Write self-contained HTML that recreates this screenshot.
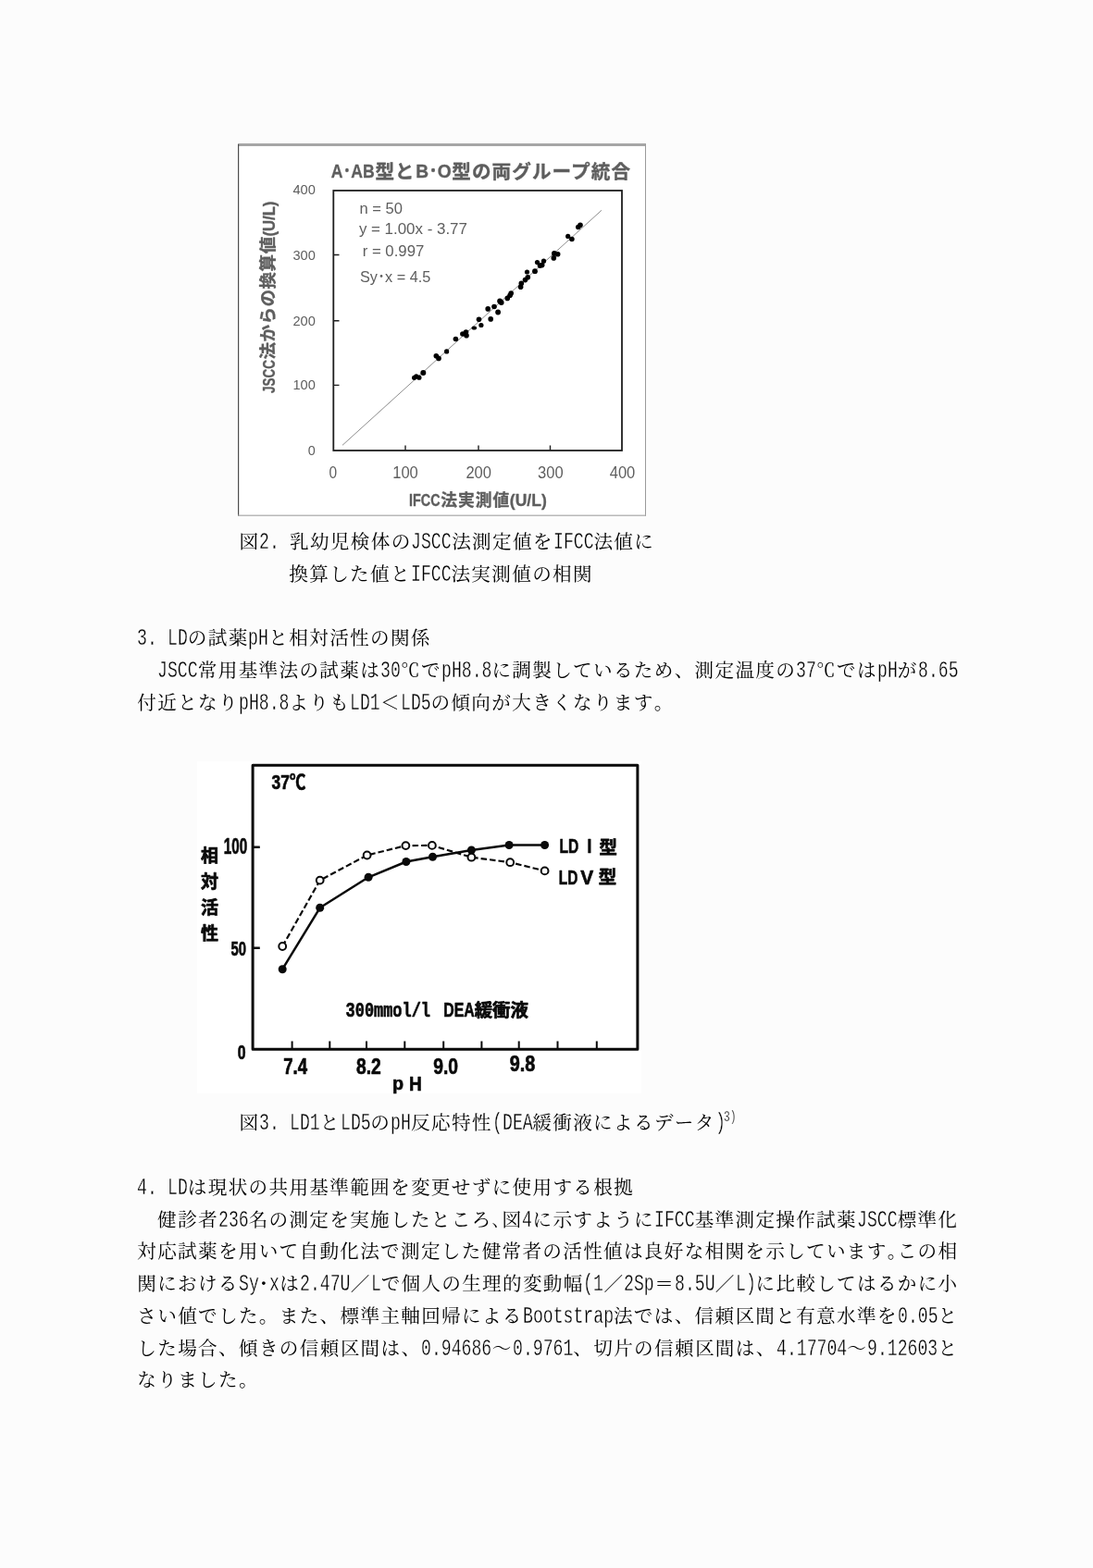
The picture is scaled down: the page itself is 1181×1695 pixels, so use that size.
<!DOCTYPE html>
<html lang="ja">
<head>
<meta charset="utf-8">
<title>LDの試薬pHと相対活性の関係</title>
<style>
html,body{margin:0;padding:0}
body{width:1181px;height:1695px;position:relative;overflow:hidden;background:#fcfcfc;color:#000;
 font-family:"Liberation Serif","Noto Serif CJK JP","Noto Serif CJK SC",serif;}
.l{position:absolute;margin:0;white-space:nowrap;font-size:20.6px;line-height:36px;height:36px;
 font-weight:400;letter-spacing:1.33px;font-kerning:none;font-variant-ligatures:none;font-feature-settings:"palt" 0,"kern" 0;}
.j{width:887px;letter-spacing:1.2px;text-align:justify;text-align-last:justify;text-justify:inter-character;}
.l .h{font-weight:400;display:inline-block;font-family:"Liberation Mono",monospace;font-size:25.5px;line-height:1;
 letter-spacing:0;transform:scaleX(.712);transform-origin:0 50%;white-space:nowrap;text-align:left;text-align-last:left;
 vertical-align:baseline;margin:0 .1px 0 -.1px;-webkit-text-stroke:.35px #fcfcfc}
.l sup{display:inline-block;font-family:"Liberation Mono",monospace;font-size:15.8px;line-height:0;letter-spacing:0;
 vertical-align:baseline;position:relative;top:-8.8px;transform:scaleX(.717);transform-origin:0 50%;width:13.6px;margin:0 1px 0 -1.3px;
 white-space:nowrap;-webkit-text-stroke:.3px #fcfcfc}
.l .k{letter-spacing:.6px}
.n1{width:10.9px}.n2{width:21.8px}.n3{width:32.7px}.n4{width:43.6px}.n5{width:54.5px}.n6{width:65.4px}
.n7{width:76.3px}.n8{width:87.2px}.n9{width:98.1px}
svg{position:absolute;display:block;overflow:visible}
</style>
</head>
<body>

<!-- 図2 -->
<svg id="c1" font-kerning="none" width="1181" height="440" viewBox="0 140 1181 440" style="left:0;top:140px" font-family='"Liberation Sans","Noto Sans CJK JP",sans-serif' fill="#5e5e5e">
<rect x="255.7" y="153.7" width="442.3" height="404.1" fill="#fff" stroke="none"/>
<rect x="257" y="155" width="441" height="3" fill="#a6a6a6" stroke="none"/>
<rect x="257" y="156" width="1.2" height="402" fill="#4d4d4d" stroke="none"/>
<rect x="697" y="156" width="1" height="402" fill="#9a9a9a" stroke="none"/>
<rect x="257" y="556.6" width="441" height="1.2" fill="#a8a8a8" stroke="none"/>
<g font-weight="700" stroke="#5e5e5e" stroke-width=".35" stroke-linejoin="round"><text x="357.8" font-size="21" textLength="46.9" lengthAdjust="spacingAndGlyphs" y="192.4">A･AB</text><text x="405.4" font-size="20.6" y="192.6" textLength="42" lengthAdjust="spacing">型と</text><text x="449.3" font-size="21" textLength="38.3" lengthAdjust="spacingAndGlyphs" y="192.4">B･O</text><text x="488.2" font-size="20.6" y="192.6" textLength="192.8" lengthAdjust="spacing">型の両グループ統合</text></g>
<g font-size="15" text-anchor="end">
<text x="340.8" y="210.3" textLength="24.4" lengthAdjust="spacingAndGlyphs">400</text>
<text x="340.8" y="280.6" textLength="24.4" lengthAdjust="spacingAndGlyphs">300</text>
<text x="340.8" y="352" textLength="24.4" lengthAdjust="spacingAndGlyphs">200</text>
<text x="340.8" y="421" textLength="24.4" lengthAdjust="spacingAndGlyphs">100</text>
<text x="340.8" y="492" textLength="8" lengthAdjust="spacingAndGlyphs">0</text>
</g>
<g font-size="17.5" text-anchor="middle">
<text x="359.9" y="517.4" textLength="8.6" lengthAdjust="spacingAndGlyphs">0</text>
<text x="438" y="517.4" textLength="27.6" lengthAdjust="spacingAndGlyphs">100</text>
<text x="517.2" y="517.4" textLength="27.6" lengthAdjust="spacingAndGlyphs">200</text>
<text x="594.8" y="517.4" textLength="27.6" lengthAdjust="spacingAndGlyphs">300</text>
<text x="672.5" y="517.4" textLength="27.6" lengthAdjust="spacingAndGlyphs">400</text>
</g>
<g font-size="16.5">
<text x="388.5" y="231.2" textLength="46.5" lengthAdjust="spacingAndGlyphs">n = 50</text>
<text x="387.9" y="253.1" textLength="117" lengthAdjust="spacingAndGlyphs">y = 1.00x - 3.77</text>
<text x="391.7" y="277.4" textLength="66.6" lengthAdjust="spacingAndGlyphs">r = 0.997</text>
<text x="389" y="304.9" textLength="76.4" lengthAdjust="spacingAndGlyphs">Sy･x = 4.5</text>
</g>
<g font-weight="700" stroke="#5e5e5e" stroke-width=".35" stroke-linejoin="round"><text x="442.1" font-size="18" textLength="33.5" lengthAdjust="spacingAndGlyphs" y="547.1">IFCC</text><text x="476.2" font-size="17.8" y="546.9" textLength="74.2" lengthAdjust="spacing">法実測値</text><text x="550.8" font-size="18" textLength="40" lengthAdjust="spacingAndGlyphs" y="547.1">(U/L)</text></g>
<g transform="translate(296.5 425) rotate(-90)" font-weight="700" stroke="#5e5e5e" stroke-width=".35" stroke-linejoin="round"><text x="0" y="0" font-size="18" textLength="36" lengthAdjust="spacingAndGlyphs">JSCC</text><text x="36.4" y="-0.1" font-size="18.5" textLength="132.8" lengthAdjust="spacing">法からの換算値</text><text x="169.4" y="0" font-size="18" textLength="38" lengthAdjust="spacingAndGlyphs">(U/L)</text></g>
<rect x="360.3" y="206" width="311.7" height="281" fill="none" stroke="#1f1f1f" stroke-width="1.8"/>
<path d="M361 275.5h5.5M361 346.8h5.5M361 416.4h5.5M438 487v-5.5M517 487v-5.5M594.5 487v-5.5" fill="none" stroke="#1f1f1f" stroke-width="1.4"/>
<path d="M370 481.3L650 227.3" fill="none" stroke="#808080" stroke-width=".9"/>
<g fill="#000" stroke="none">
<circle cx="447.6" cy="408.3" r="2.6"/><circle cx="449.8" cy="406.9" r="2.6"/><circle cx="452.9" cy="408.2" r="2.6"/><circle cx="457.3" cy="403" r="3.0"/>
<circle cx="471.3" cy="384.8" r="2.8"/><circle cx="474" cy="387.4" r="2.8"/><circle cx="482.6" cy="379.9" r="2.6"/><circle cx="492.4" cy="366.5" r="2.8"/>
<circle cx="499.9" cy="361" r="2.8"/><circle cx="503.5" cy="359" r="2.8"/><circle cx="504" cy="362.8" r="2.8"/><ellipse cx="512.3" cy="354.6" rx="2.8" ry="2"/>
<circle cx="517.5" cy="345.2" r="2.8"/><circle cx="519.9" cy="351.5" r="2.6"/><circle cx="527.2" cy="333.9" r="2.8"/><circle cx="530.2" cy="344.9" r="2.8"/>
<circle cx="534" cy="331.5" r="2.8"/><circle cx="538.1" cy="337.5" r="2.9"/><circle cx="540.1" cy="325.4" r="2.9"/><circle cx="541.7" cy="327" r="2.9"/>
<circle cx="548.3" cy="322.4" r="2.8"/><circle cx="551.1" cy="319.2" r="2.8"/><circle cx="552.2" cy="317.1" r="2.8"/>
<circle cx="562.6" cy="310.3" r="2.8"/><circle cx="563.3" cy="306.4" r="2.8"/><circle cx="567.5" cy="302.6" r="2.8"/><circle cx="570.3" cy="299.8" r="2.8"/>
<circle cx="569.5" cy="294" r="2.6"/><circle cx="578" cy="293.2" r="2.9"/><circle cx="580.5" cy="283.6" r="2.6"/><circle cx="583.5" cy="287.1" r="2.8"/>
<circle cx="585.7" cy="286.6" r="2.8"/><circle cx="587.5" cy="282.2" r="2.6"/><circle cx="598.3" cy="278.9" r="2.8"/><circle cx="598.9" cy="273.9" r="2.9"/>
<circle cx="602.7" cy="274.7" r="2.8"/><circle cx="613.7" cy="255.4" r="2.6"/><circle cx="617.9" cy="258.5" r="2.8"/><circle cx="624.8" cy="245.5" r="2.8"/>
<circle cx="627" cy="243.3" r="2.8"/>
</g>
</svg>

<p class="l" style="left:258.4px;top:567.9px">図<span class="h n3">2. </span>乳幼児検体の<span class="h n4">JSCC</span>法測定値を<span class="h n4">IFCC</span>法値に</p>
<p class="l" style="left:312.3px;top:602.7px">換算した値と<span class="h n4">IFCC</span>法実測値の相関</p>

<h2 class="l" style="left:148.3px;top:672.4px"><span class="h n3">3. </span><span class="h n2">LD</span>の試薬<span class="h n2">pH</span>と相対活性の関係</h2>
<p class="l j" style="left:170.1px;top:707.1px;width:865.2px"><span class="h n4">JSCC</span>常用基準法の試薬は<span class="h n2">30</span>℃で<span class="h n5">pH8.8</span>に調製しているため、測定温度の<span class="h n2">37</span>℃では<span class="h n2">pH</span>が<span class="h n4">8.65</span></p>
<p class="l" style="left:148.3px;top:741.9px">付近となり<span class="h n5">pH8.8</span>よりも<span class="h n3">LD1</span>＜<span class="h n3">LD5</span>の傾向が大きくなります。</p>

<!-- 図3 -->
<svg id="c2" font-kerning="none" width="1181" height="380" viewBox="0 810 1181 380" style="left:0;top:810px" font-family='"Liberation Sans","Noto Sans CJK JP",sans-serif' font-weight="700" fill="#0a0a0a" stroke-linejoin="round">
<rect x="213" y="823" width="480" height="359" fill="#fff" stroke="none"/>
<rect x="273.1" y="827.3" width="415.8" height="307" fill="none" stroke="#0a0a0a" stroke-width="3"/>
<path d="M273 915.7h7.8M273 1024.8h7.8" fill="none" stroke="#0a0a0a" stroke-width="2.4"/>
<path d="M315.6 1134v-8.6M356.3 1134v-8.6M396 1134v-8.6M437.3 1134v-8.6M479.2 1134v-8.6M520.4 1134v-8.6M560.7 1134v-8.6M602.5 1134v-8.6M644.8 1134v-8.6" fill="none" stroke="#0a0a0a" stroke-width="2"/>
<polyline points="305.2,1023 345.7,951.6 396.6,924.5 438.4,914.1 466.9,913.9 509.4,926.7 551.2,932.2 588.6,941.4" fill="none" stroke="#0a0a0a" stroke-width="2.2" stroke-dasharray="6.5 3"/>
<polyline points="305.2,1047.7 345.7,981.3 398.1,948.3 438.9,931.5 467.5,926.2 509.4,919 550.1,913.5 588.6,913.5" fill="none" stroke="#0a0a0a" stroke-width="2.5" stroke-linejoin="round"/>
<g fill="#0a0a0a" stroke="none">
<circle cx="305.2" cy="1047.7" r="4.5"/><circle cx="345.7" cy="981.3" r="4.5"/><circle cx="398.1" cy="948.3" r="4.5"/><circle cx="438.9" cy="931.5" r="4.5"/>
<circle cx="467.5" cy="926.2" r="4.5"/><circle cx="509.4" cy="919" r="4.5"/><circle cx="550.1" cy="913.5" r="4.5"/><circle cx="588.6" cy="913.5" r="4.5"/>
</g>
<g fill="#fff" stroke="#0a0a0a" stroke-width="2">
<circle cx="305.2" cy="1023" r="3.9"/><circle cx="345.7" cy="951.6" r="3.9"/><circle cx="396.6" cy="924.5" r="3.9"/><circle cx="438.4" cy="914.1" r="3.9"/>
<circle cx="466.9" cy="913.9" r="3.9"/><circle cx="509.4" cy="926.7" r="3.9"/><circle cx="551.2" cy="932.2" r="3.9"/><circle cx="588.6" cy="941.4" r="3.9"/>
</g>
<g stroke="#0a0a0a" stroke-width=".7">
<text x="293.6" y="853" font-size="21.5" textLength="36.7" lengthAdjust="spacingAndGlyphs">37℃</text>
<text x="241.8" y="923.4" font-size="23.6" textLength="25.4" lengthAdjust="spacingAndGlyphs">100</text>
<text x="249.5" y="1033" font-size="22" textLength="16.5" lengthAdjust="spacingAndGlyphs">50</text>
<text x="256.8" y="1145" font-size="22" textLength="8.8" lengthAdjust="spacingAndGlyphs">0</text>
<text font-size="19" text-anchor="middle"><tspan x="226.5" y="931.5">相</tspan><tspan x="226.5" y="960">対</tspan><tspan x="226.5" y="987.6">活</tspan><tspan x="226.5" y="1015.7">性</tspan></text>
<g><text x="604.5" font-size="22" textLength="20.8" lengthAdjust="spacingAndGlyphs" y="921.8">LD</text><text x="634.4" font-size="22" textLength="4.8" lengthAdjust="spacingAndGlyphs" y="921.8">I</text><text x="647.6" font-size="19.4" y="923.3">型</text></g>
<g><text x="603.8" font-size="22" textLength="20.6" lengthAdjust="spacingAndGlyphs" y="956.4">LD</text><text x="627.2" font-size="22" textLength="14" lengthAdjust="spacingAndGlyphs" y="956.4">V</text><text x="646.8" font-size="19.4" y="955.4">型</text></g>
<g><text x="373.6" font-family='"Liberation Mono",monospace' font-size="22.5" textLength="91.4" lengthAdjust="spacingAndGlyphs" y="1099">300mmol/l</text><text x="479.2" font-size="22" textLength="33.5" lengthAdjust="spacingAndGlyphs" y="1099">DEA</text><text x="512.7" font-size="19.4" y="1099">緩衝液</text></g>
<text x="306.3" y="1161.3" font-size="23.5" textLength="25.8" lengthAdjust="spacingAndGlyphs">7.4</text>
<text x="385" y="1161" font-size="23.5" textLength="26.8" lengthAdjust="spacingAndGlyphs">8.2</text>
<text x="468.2" y="1160.6" font-size="23.5" textLength="26.8" lengthAdjust="spacingAndGlyphs">9.0</text>
<text x="550.7" y="1158" font-size="23.5" textLength="27.6" lengthAdjust="spacingAndGlyphs">9.8</text>
<text x="424" y="1177.5" font-size="19.6" textLength="12" lengthAdjust="spacingAndGlyphs">p</text><text x="442" y="1179.3" font-size="22.6" textLength="13.8" lengthAdjust="spacingAndGlyphs">H</text>
</g>
</svg>

<p class="l" style="left:258.4px;top:1196.1px">図<span class="h n3">3. </span><span class="h n3">LD1</span>と<span class="h n3">LD5</span>の<span class="h n2">pH</span>反応特性<span class="h n1">(</span><span class="h n3">DEA</span>緩衝液によるデータ<span class="h n1">)</span><sup>3)</sup></p>

<h2 class="l" style="left:148.3px;top:1265.8px"><span class="h n3">4. </span><span class="h n2">LD</span>は現状の共用基準範囲を変更せずに使用する根拠</h2>
<p class="l j" style="left:170.1px;top:1300.5px;width:865.2px">健診者<span class="h n3">236</span>名の測定を実施したところ<span class="k">､</span>図<span class="h n1">4</span>に示すように<span class="h n4">IFCC</span>基準測定操作試薬<span class="h n4">JSCC</span>標準化</p>
<p class="l j" style="left:148.3px;top:1335.3px">対応試薬を用いて自動化法で測定した健常者の活性値は良好な相関を示しています<span class="k">｡</span>この相</p>
<p class="l j" style="left:148.3px;top:1370.1px">関における<span class="h n2">Sy</span>･<span class="h n1">x</span>は<span class="h n5">2.47U</span>／<span class="h n1">L</span>で個人の生理的変動幅<span class="h n2">(1</span>／<span class="h n3">2Sp</span>＝<span class="h n4">8.5U</span>／<span class="h n2">L)</span>に比較してはるかに小</p>
<p class="l j" style="left:148.3px;top:1404.9px">さい値でした。また、標準主軸回帰による<span class="h n9">Bootstrap</span>法では、信頼区間と有意水準を<span class="h n4">0.05</span>と</p>
<p class="l j" style="left:148.3px;top:1439.5px">した場合、傾きの信頼区間は、<span class="h n7">0.94686</span>～<span class="h n6">0.9761</span>、切片の信頼区間は、<span class="h n7">4.17704</span>～<span class="h n7">9.12603</span>と</p>
<p class="l" style="left:148.3px;top:1474.4px">なりました。</p>

</body>
</html>
